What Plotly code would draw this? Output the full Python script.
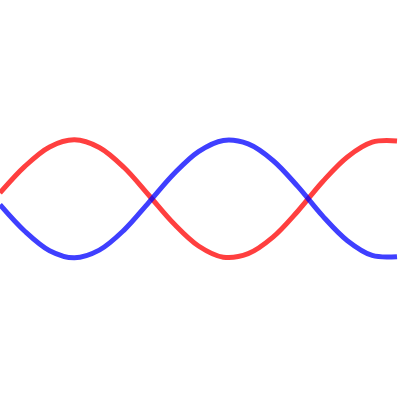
import plotly.graph_objects as go

# readings, x in plot units
x_vals = [0, 0.5, 1, 1.5, 2, 2.5, 3, 3.5, 4, 4.5, 5, 5.5, 6, 6.5, 7, 7.5, 8]
red_vals = [0.1, 0.55, 0.88, 1.00, 0.87, 0.53, 0.06, -0.42, -0.80, -0.99,
            -0.93, -0.65, -0.21, 0.29, 0.71, 0.96, 0.98]
blue_vals = [-0.1, -0.55, -0.88, -1.00, -0.87, -0.53, -0.06, 0.42, 0.80, 0.99,
             0.93, 0.65, 0.21, -0.29, -0.71, -0.96, -0.98]

fig = go.Figure()
fig.add_trace(go.Scatter(
    x=x_vals, y=red_vals, mode='lines',
    line=dict(color='rgb(255,0,0)', width=5, shape='spline'),
    opacity=0.75, showlegend=False
))
fig.add_trace(go.Scatter(
    x=x_vals, y=blue_vals, mode='lines',
    line=dict(color='rgb(0,0,255)', width=5, shape='spline'),
    opacity=0.75, showlegend=False
))

fig.update_layout(
    width=400, height=400,
    margin=dict(l=0, r=0, t=0, b=0),
    paper_bgcolor='white',
    plot_bgcolor='white',
    xaxis=dict(visible=False, range=[0, 8.06]),
    yaxis=dict(visible=False, range=[-3.41, 3.37]),
)

# drop the default page margin so the figure sits at the window corner
fig.write_html("out.html",
               config={'displayModeBar': False},
               post_script="document.body.style.margin='0';"
                           "document.body.style.overflow='hidden';")
